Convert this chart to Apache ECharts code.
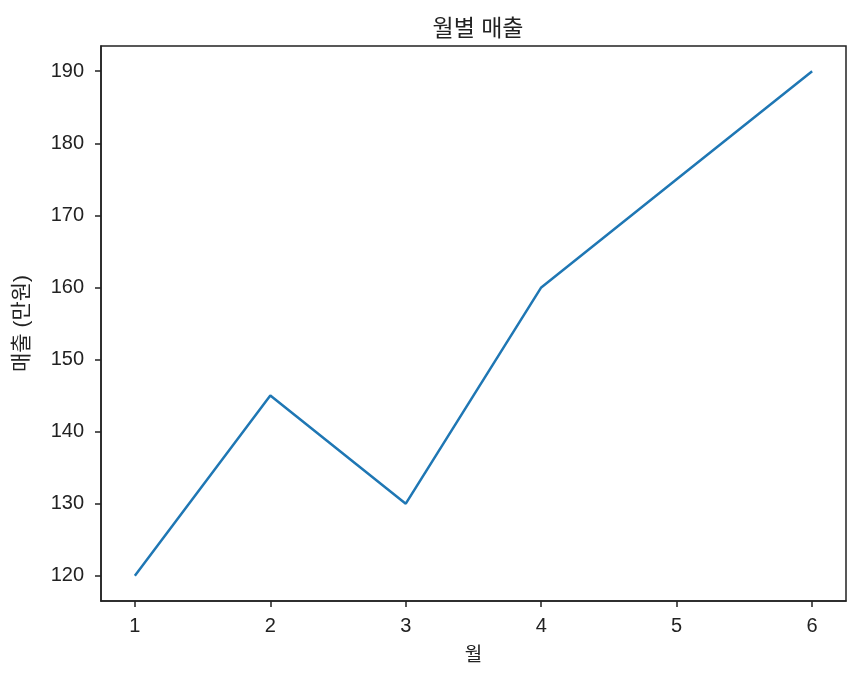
<!DOCTYPE html>
<html>
<head>
<meta charset="UTF-8">
<title>월별 매출</title>
<script type="text/javascript" src="https://cdn.jsdelivr.net/npm/echarts@6/dist/echarts.min.js"></script>
<style>
  html, body { margin: 0; padding: 0; background: #fff; }
</style>
</head>
<body>
	<div id="chart" style="width:860px; height:681px"></div>
	<script type="text/javascript">
	// 월 (x) / 매출 (y)
	var months = [1, 2, 3, 4, 5, 6];
	var sales = [120, 145, 130, 160, 175, 190];
	var yTicks = [120, 130, 140, 150, 160, 170, 180, 190];

	var myChart = echarts.init(document.getElementById('chart'));
	var font = '"Liberation Sans", "Noto Sans CJK KR", sans-serif';
	var ink = '#222';

	var option = {
		backgroundColor: '#fff',
		animation: false,
		textStyle: { fontFamily: font },
		title: {
			text: '월별 매출',
			left: 473,
			top: 13,
			textAlign: 'center',
			textStyle: { fontFamily: font, fontSize: 23, fontWeight: 'normal', color: ink }
		},
		grid: {
			left: 101, right: 14, top: 46, bottom: 80,
			show: true, borderColor: ink, borderWidth: 1.5
		},
		xAxis: {
			type: 'value',
			min: 0.75,
			max: 6.25,
			name: '월',
			nameLocation: 'middle',
			nameGap: 45,
			nameTextStyle: { fontFamily: font, fontSize: 19, color: ink },
			splitLine: { show: false },
			axisLine: { show: true, lineStyle: { color: ink, width: 1.5 } },
			axisTick: { show: true, length: 6, customValues: months, lineStyle: { color: ink, width: 1.5 } },
			axisLabel: { customValues: months, fontSize: 20, color: ink, margin: 15 }
		},
		yAxis: {
			type: 'value',
			min: 116.5,
			max: 193.5,
			name: '매출 (만원)',
			nameLocation: 'middle',
			nameGap: 68,
			nameTextStyle: { fontFamily: font, fontSize: 21, color: ink },
			splitLine: { show: false },
			axisLine: { show: true, lineStyle: { color: ink, width: 1.5 } },
			axisTick: { show: true, length: 6, customValues: yTicks, lineStyle: { color: ink, width: 1.5 } },
			axisLabel: { customValues: yTicks, fontSize: 20, color: ink, margin: 17 }
		},
		series: [{
			type: 'line',
			data: months.map(function (m, i) { return [m, sales[i]]; }),
			showSymbol: false,
			symbol: 'none',
			lineStyle: { color: '#1f77b4', width: 2.5 }
		}]
	};
	myChart.setOption(option);
	</script>
</body>
</html>
